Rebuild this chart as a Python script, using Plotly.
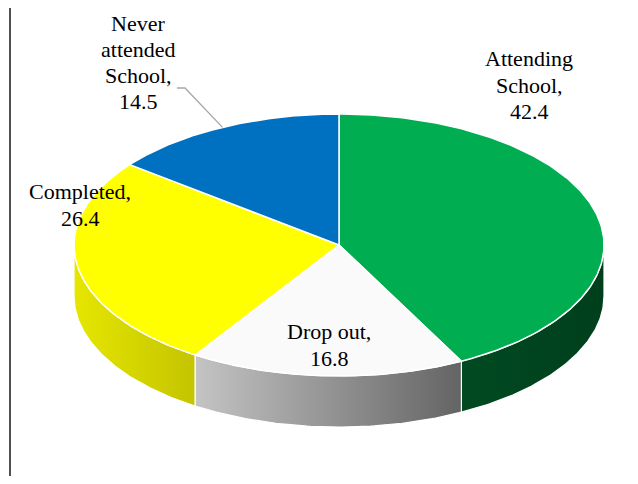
import numpy as np
import plotly.graph_objects as go

# ---- data ----
categories = ["Attending School", "Drop out", "Completed", "Never attended School"]
values = [42.4, 16.8, 26.4, 14.5]
label_lines = [["Attending", "School,"], ["Drop out,"], ["Completed,"], ["Never", "attended", "School,"]]
top_colors = ["#00AD50", "#FAFAFA", "#FFFF00", "#0070C0"]
side_colors = [["#004A22", "#003F1C"], ["#C4C4C4", "#646464"], ["#E6E600", "#C4C400"], ["#00487A", "#003A66"]]
label_pos = [(529, 85), (329, 345), (80, 205), (138, 62.5)]

# ---- geometry of the tilted pie (pixels of the final page) ----
CX, CY, RX, RY, DEPTH = 339, 245, 265, 131, 51
START = 90.0  # first slice starts at 12 o'clock, clockwise
LINE_GAP = 26.3
FONT = dict(family="Liberation Serif, Times New Roman, serif", size=22, color="black")

# page body has an 8px default margin; size the figure so the page fits the window
PAGE_MARGIN = 8
W, H = 638 - 2 * PAGE_MARGIN, 484 - 2 * PAGE_MARGIN


def pt(theta_deg, dy=0.0):
    t = np.radians(theta_deg)
    return CX + RX * np.cos(t), CY - RY * np.sin(t) + dy


total = sum(values)
bounds = [START]
for v in values:
    bounds.append(bounds[-1] - v / total * 360.0)

fig = go.Figure()

# side walls (front half only)
for i, cat in enumerate(categories):
    a0, a1 = bounds[i], bounds[i + 1]
    lo, hi = max(a1, -180.0), min(a0, 0.0)
    if hi <= lo:
        continue
    th = np.linspace(lo, hi, 80)
    xt, yt = pt(th)
    xb, yb = pt(th[::-1], DEPTH)
    xs = np.concatenate([xt, xb, xt[:1]])
    ys = np.concatenate([yt, yb, yt[:1]])
    fig.add_trace(go.Scatter(
        x=xs, y=ys, mode="lines", fill="toself",
        line=dict(color="white", width=1.2),
        fillgradient=dict(type="horizontal",
                          colorscale=[[0, side_colors[i][0]], [1, side_colors[i][1]]]),
        hoverinfo="skip", showlegend=False))

# top faces
for i, cat in enumerate(categories):
    a0, a1 = bounds[i], bounds[i + 1]
    th = np.linspace(a0, a1, 200)
    xa, ya = pt(th)
    xs = np.concatenate([[CX], xa, [CX]])
    ys = np.concatenate([[CY], ya, [CY]])
    fig.add_trace(go.Scatter(
        x=xs, y=ys, mode="lines", fill="toself", fillcolor=top_colors[i],
        line=dict(color="white", width=1.5),
        name=cat, hoverinfo="skip", showlegend=False))

# labels (one annotation per line for exact line spacing)
for i, cat in enumerate(categories):
    lines = label_lines[i] + [f"{values[i]}"]
    x, y = label_pos[i]
    n = len(lines)
    for k, s in enumerate(lines):
        fig.add_annotation(x=x, y=y + (k - (n - 1) / 2) * LINE_GAP, text=s,
                           showarrow=False, xanchor="center", yanchor="middle",
                           font=FONT)

# leader line for the "Never attended" label to the slice mid-point on the rim
mid = (bounds[3] + bounds[4]) / 2.0
mx, my = pt(mid)
fig.add_trace(go.Scatter(x=[177, 185, mx], y=[88, 88, my], mode="lines",
                         line=dict(color="#A6A6A6", width=1.3),
                         hoverinfo="skip", showlegend=False))

# left frame line
fig.add_shape(type="line", xref="x", yref="y", x0=10, x1=10, y0=7, y1=484,
              line=dict(color="#505050", width=2))

fig.update_layout(
    width=W, height=H,
    margin=dict(l=0, r=0, t=0, b=0),
    paper_bgcolor="white", plot_bgcolor="white",
    xaxis=dict(range=[PAGE_MARGIN, PAGE_MARGIN + W], visible=False, fixedrange=True),
    yaxis=dict(range=[PAGE_MARGIN + H, PAGE_MARGIN], visible=False, fixedrange=True),
)

fig.write_html("out.html")
